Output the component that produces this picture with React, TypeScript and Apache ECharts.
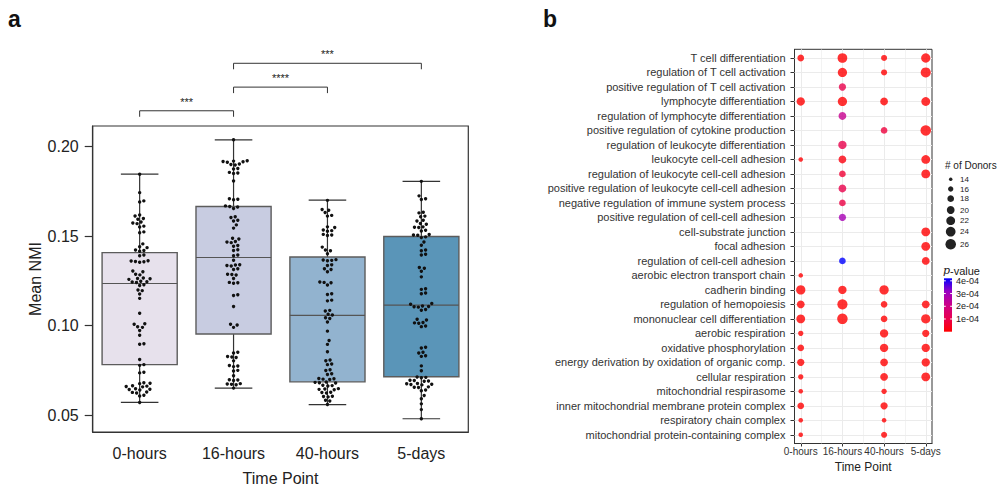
import React, { useEffect, useRef } from 'react';
import * as echarts from 'echarts';

const FONT = 'Liberation Sans';

// ---------- Panel a ----------
const timepoints = ['0-hours', '16-hours', '40-hours', '5-days'];
const boxColors = ['#e7e1ec', '#c8cce1', '#92b3cf', '#5a95b8'];

// box statistics
const boxMin = [0.0571, 0.0651, 0.0559, 0.048];
const boxQ1 = [0.0782, 0.0953, 0.0686, 0.0714];
const boxMedian = [0.1235, 0.138, 0.1057, 0.1114];
const boxQ3 = [0.1407, 0.1665, 0.1383, 0.1497];
const boxMax = [0.1845, 0.2037, 0.17, 0.1805];

const nmi0h = [
  0.1845, 0.1742, 0.1696, 0.169,
  0.1617, 0.1612, 0.1598, 0.1594, 0.1578, 0.1573, 0.1569, 0.1555, 0.155, 0.1523, 0.1518,
  0.1456, 0.144, 0.1435, 0.1422, 0.1419, 0.1415, 0.1394, 0.139, 0.1362, 0.136, 0.1358, 0.1356, 0.1353,
  0.1305, 0.13, 0.1287, 0.1283, 0.1266, 0.1263, 0.1261, 0.1258, 0.1247, 0.1245, 0.1243, 0.124, 0.1228, 0.1224, 0.1199, 0.1195, 0.1176, 0.1152,
  0.1069, 0.101, 0.1007, 0.0993, 0.099, 0.0972, 0.0946, 0.0899, 0.0896,
  0.0811, 0.0782, 0.0778, 0.074, 0.0736,
  0.0681, 0.0678, 0.0676, 0.0664, 0.0662, 0.066, 0.0658, 0.0647, 0.0645, 0.0643, 0.064, 0.0629, 0.0627, 0.0624, 0.0611, 0.0607, 0.0571,
];
const nmi16h = [
  0.2037,
  0.192, 0.1918, 0.1916, 0.1914, 0.1912,
  0.1902, 0.1899, 0.1896,
  0.1877, 0.1874,
  0.1855, 0.1852, 0.1849,
  0.1807,
  0.1708, 0.1705, 0.1702,
  0.1668, 0.1665, 0.1662, 0.1654,
  0.1607, 0.1603, 0.1588, 0.1584, 0.1562, 0.1544,
  0.1487, 0.1483, 0.1469, 0.1466, 0.1463, 0.1447, 0.1443, 0.1423, 0.1419, 0.1394, 0.139, 0.1365,
  0.134, 0.1338, 0.1335, 0.1333, 0.1317, 0.1313, 0.1287, 0.1285, 0.1282, 0.1263, 0.1241, 0.1239, 0.1236,
  0.1172, 0.1168, 0.1106,
  0.1007, 0.1003, 0.099,
  0.0851, 0.0847, 0.0827, 0.0825, 0.0822, 0.0803, 0.0777, 0.0774, 0.0771, 0.075, 0.0746, 0.072, 0.0698, 0.0696, 0.0693, 0.0676, 0.0674, 0.0672, 0.067, 0.0651,
];
const nmi40h = [
  0.1699, 0.1648, 0.1644, 0.1631, 0.1615, 0.1611, 0.1551, 0.1547, 0.1533, 0.153, 0.1527, 0.1509, 0.1506, 0.1503,
  0.1438, 0.1422, 0.1418, 0.1401, 0.1368, 0.1366, 0.1364, 0.1362, 0.1339, 0.1335, 0.1317, 0.1313, 0.13,
  0.1243, 0.1241, 0.1239, 0.1226, 0.1178, 0.1174, 0.1142, 0.1138,
  0.1085, 0.1081, 0.1063, 0.1059, 0.1044, 0.104, 0.102, 0.0969, 0.0917, 0.0895, 0.0854,
  0.0808, 0.0804, 0.0786, 0.0782, 0.0753, 0.0749, 0.0731, 0.0727,
  0.0705, 0.0703, 0.0701, 0.0699, 0.0685, 0.0683, 0.0681, 0.0679, 0.0667, 0.0665, 0.0663, 0.0648, 0.0646, 0.0644, 0.0642, 0.0628, 0.0626, 0.0624, 0.0606, 0.0604, 0.0602, 0.0583, 0.0579, 0.0559,
];
const nmi5d = [
  0.1805, 0.1724, 0.1708, 0.1704, 0.1633, 0.1629, 0.1611, 0.1607, 0.1588, 0.1584, 0.157, 0.1566, 0.1551, 0.1549, 0.1547, 0.1532, 0.1528, 0.1508, 0.1506, 0.1504, 0.1495, 0.1491, 0.1467, 0.1448, 0.1422, 0.1418, 0.1398, 0.1394,
  0.1324, 0.132, 0.1303, 0.1272, 0.1206, 0.1202, 0.1182, 0.1178,
  0.1123, 0.1119, 0.1109, 0.1107, 0.1105, 0.1103, 0.109, 0.1086, 0.1035, 0.1031, 0.1017, 0.1015, 0.1013, 0.0998, 0.0994,
  0.0879, 0.0875, 0.0851, 0.0847, 0.0832, 0.0828, 0.0775, 0.0748,
  0.0713, 0.0711, 0.0709, 0.0695, 0.0693, 0.0691, 0.0689, 0.0677, 0.0675, 0.0673, 0.0671, 0.0669, 0.0658, 0.0656, 0.0654, 0.064, 0.0636, 0.061, 0.0592, 0.0563, 0.0531, 0.048,
];
const nmiGroups = [nmi0h, nmi16h, nmi40h, nmi5d];

// significance brackets
const compFrom = [0, 1, 1];
const compTo = [1, 2, 3];
const compLabel = ['***', '****', '***'];
const compY = [0.2199, 0.2331, 0.2464];

// ---------- Panel b ----------
const terms = [
  'T cell differentiation',
  'regulation of T cell activation',
  'positive regulation of T cell activation',
  'lymphocyte differentiation',
  'regulation of lymphocyte differentiation',
  'positive regulation of cytokine production',
  'regulation of leukocyte differentiation',
  'leukocyte cell-cell adhesion',
  'regulation of leukocyte cell-cell adhesion',
  'positive regulation of leukocyte cell-cell adhesion',
  'negative regulation of immune system process',
  'positive regulation of cell-cell adhesion',
  'cell-substrate junction',
  'focal adhesion',
  'regulation of cell-cell adhesion',
  'aerobic electron transport chain',
  'cadherin binding',
  'regulation of hemopoiesis',
  'mononuclear cell differentiation',
  'aerobic respiration',
  'oxidative phosphorylation',
  'energy derivation by oxidation of organic comp.',
  'cellular respiration',
  'mitochondrial respirasome',
  'inner mitochondrial membrane protein complex',
  'respiratory chain complex',
  'mitochondrial protein-containing complex',
];
const N = null;
const donors0h = [18, N, N, 21, N, N, N, 15, N, N, N, N, N, N, N, 15, 23, 20, 22, 16, 18, 19, 16, 15, 18, 15, 15];
const donors16h = [24, 23, 19, 23, 20, N, 21, 20, 18, 20, 18, 19, N, N, 18, N, 21, 25, 26, N, N, N, N, N, N, N, N];
const donors40h = [17, 17, N, 20, N, 18, N, N, N, N, N, N, N, N, N, N, 23, 18, 18, 21, 21, 20, 20, 16, 19, 15, 17];
const donors5d = [23, 25, N, 22, N, 26, N, 22, 22, N, N, N, 22, 22, 20, N, N, 20, 23, 19, 21, 21, 22, N, N, N, N];
const p0h = [1e-6, N, N, 1e-6, N, N, N, 3e-6, N, N, N, N, N, N, N, 2e-6, 1e-6, 1e-6, 1e-6, 1e-6, 1e-6, 1e-6, 1e-6, 2e-6, 1e-6, 2e-6, 2e-6];
const p16h = [1e-6, 1e-6, 1.0e-4, 1e-6, 2.2e-4, N, 1.0e-4, 2e-5, 7e-5, 1.0e-4, 9e-5, 2.9e-4, N, N, 4.2e-4, N, 1e-6, 1e-6, 1e-6, N, N, N, N, N, N, N, N];
const p40h = [1e-6, 2e-6, N, 1e-6, N, 8e-5, N, N, N, N, N, N, N, N, N, N, 1e-6, 1e-6, 1e-6, 1e-6, 1e-6, 1e-6, 1e-6, 1e-6, 1e-6, 2e-6, 1e-6];
const p5d = [1e-6, 1e-6, N, 1e-6, N, 1e-6, N, 1e-6, 1e-6, N, N, N, 1e-6, 1e-6, 2e-6, N, N, 1e-6, 1e-6, 1e-6, 1e-6, 1e-6, 1e-6, N, N, N, N];
const donorsByTime = [donors0h, donors16h, donors40h, donors5d];
const pByTime = [p0h, p16h, p40h, p5d];

const donorLegend = [14, 16, 18, 20, 22, 24, 26];
const pLegendTicks = [1e-4, 2e-4, 3e-4, 4e-4];
const pLegendLabels = ['1e-04', '2e-04', '3e-04', '4e-04'];

// ---------- helpers ----------
const sizeFor = (n: number) => Math.sqrt(12.25 + 8.17 * (n - 14));
const gradStops = ['#ff0000', '#e8004f', '#cc0088', '#9a00c2', '#0000ff'];
const hex = (c: string) => [1, 3, 5].map((i) => parseInt(c.slice(i, i + 2), 16));
function pColor(p: number, pMax: number) {
  const t = Math.max(0, Math.min(1, p / pMax)) * (gradStops.length - 1);
  const i = Math.min(gradStops.length - 2, Math.floor(t));
  const f = t - i;
  const a = hex(gradStops[i]);
  const b = hex(gradStops[i + 1]);
  const c = a.map((v, k) => Math.round(v + (b[k] - v) * f));
  return `rgb(${c[0]},${c[1]},${c[2]})`;
}

function swarmOffsets(vals: number[], pxPerUnit: number, d: number): number[] {
  const order = vals.map((_, i) => i).sort((a, b) => vals[a] - vals[b]);
  const placed: { x: number; y: number }[] = [];
  const out = new Array(vals.length).fill(0);
  for (const i of order) {
    const y = vals[i] * pxPerUnit;
    const near = placed.filter((p) => Math.abs(p.y - y) < d);
    const cands = [0];
    for (const p of near) {
      const dx = Math.sqrt(d * d - (p.y - y) * (p.y - y));
      cands.push(p.x + dx, p.x - dx);
    }
    cands.sort((a, b) => Math.abs(a) - Math.abs(b));
    let best = 0;
    for (const c of cands) {
      if (near.every((p) => (p.x - c) ** 2 + (p.y - y) ** 2 >= d * d - 1e-6)) {
        best = c;
        break;
      }
    }
    placed.push({ x: best, y });
    out[i] = best;
  }
  return out;
}

// layout
const A = { left: 92.7, top: 126, width: 375.6, height: 309, yMin: 0.0406, yMax: 0.2114 };
const B = { left: 794.5, top: 49.3, width: 137.5, height: 394.2 };

export default function App() {
  const ref = useRef<HTMLDivElement>(null);
  useEffect(() => {
    if (!ref.current) return;
    const chart = echarts.init(ref.current, undefined, { renderer: 'svg' });

    const pxPerUnit = A.height / (A.yMax - A.yMin);
    const band = A.width / timepoints.length;
    const swarmData: number[][] = [];
    nmiGroups.forEach((vals, gi) => {
      const offs = swarmOffsets(vals, pxPerUnit, 4.3);
      vals.forEach((v, k) => swarmData.push([gi + offs[k] / band, v]));
    });

    const boxData = timepoints.map((_, i) => [i, boxMin[i], boxQ1[i], boxMedian[i], boxQ3[i], boxMax[i]]);

    const dots: number[][] = [];
    let pMax = 0;
    donorsByTime.forEach((arr, ti) => {
      arr.forEach((n, ri) => {
        if (n != null) {
          const p = pByTime[ti][ri] as number;
          pMax = Math.max(pMax, p);
          dots.push([ti + 1, ri, n, p]);
        }
      });
    });

    const gridLineData: any[] = [];
    [1, 1.5, 2, 2.5, 3, 3.5, 4].forEach((v) =>
      gridLineData.push({ xAxis: v, lineStyle: { color: '#ebebeb', width: Number.isInteger(v) ? 1 : 0.6, type: 'solid' } })
    );
    terms.forEach((_, i) => gridLineData.push({ yAxis: i, lineStyle: { color: '#ebebeb', width: 1, type: 'solid' } }));

    const option: any = {
      animation: false,
      backgroundColor: '#ffffff',
      textStyle: { fontFamily: FONT },
      grid: [
        { left: A.left, top: A.top, width: A.width, height: A.height, show: true, borderColor: '#333', borderWidth: 1.2, backgroundColor: 'transparent' },
        { left: B.left, top: B.top, width: B.width, height: B.height, show: true, borderColor: '#333', borderWidth: 1, backgroundColor: 'transparent' },
      ],
      xAxis: [
        {
          type: 'category', gridIndex: 0, data: timepoints, boundaryGap: true,
          axisLine: { show: true, onZero: false, lineStyle: { color: '#333', width: 1.2 } },
          axisTick: { alignWithLabel: true, length: 8, lineStyle: { color: '#333', width: 1.2 } },
          axisLabel: { fontSize: 16, color: '#222', margin: 13, fontFamily: FONT },
          name: 'Time Point', nameLocation: 'middle', nameGap: 38,
          nameTextStyle: { fontSize: 16, color: '#222', fontFamily: FONT },
          splitLine: { show: false },
        },
        { type: 'value', gridIndex: 0, min: -0.5, max: 3.5, show: false, axisLine: { onZero: false } },
        {
          type: 'value', gridIndex: 1, min: 0.85, max: 4.15,
          axisLine: { show: true, onZero: false, lineStyle: { color: '#333', width: 1 } },
          axisTick: { show: true, length: 3, customValues: [1, 2, 3, 4], lineStyle: { color: '#333' } },
          axisLabel: { customValues: [1, 2, 3, 4], formatter: (v: number) => timepoints[Math.round(v) - 1], fontSize: 10, color: '#333', margin: 3, fontFamily: FONT },
          splitLine: { show: false },
          name: 'Time Point', nameLocation: 'middle', nameGap: 12,
          nameTextStyle: { fontSize: 12, color: '#222', fontFamily: FONT },
        },
      ],
      yAxis: [
        {
          type: 'value', gridIndex: 0, min: A.yMin, max: A.yMax,
          axisLine: { show: true, onZero: false, lineStyle: { color: '#333', width: 1.2 } },
          axisTick: { show: true, length: 8, customValues: [0.05, 0.1, 0.15, 0.2], lineStyle: { color: '#333', width: 1.2 } },
          axisLabel: { customValues: [0.05, 0.1, 0.15, 0.2], formatter: (v: number) => v.toFixed(2), fontSize: 16, color: '#222', margin: 14, fontFamily: FONT },
          splitLine: { show: false },
          name: 'Mean NMI', nameLocation: 'middle', nameGap: 46,
          nameTextStyle: { fontSize: 16, color: '#222', fontFamily: FONT },
        },
        {
          type: 'value', gridIndex: 1, min: -0.6, max: 26.6, inverse: true,
          axisLine: { show: true, onZero: false, lineStyle: { color: '#333', width: 1 } },
          axisTick: { show: true, length: 4, customValues: terms.map((_, i) => i), lineStyle: { color: '#333' } },
          axisLabel: { customValues: terms.map((_, i) => i), formatter: (v: number) => terms[Math.round(v)], fontSize: 11, color: '#333', margin: 9, fontFamily: FONT },
          splitLine: { show: false },
        },
      ],
      series: [
        {
          type: 'custom', xAxisIndex: 0, yAxisIndex: 0, data: boxData, z: 2,
          encode: { x: 0, y: [1, 2, 3, 4, 5] },
          renderItem: (params: any, api: any) => {
            const idx = api.value(0);
            const cx = api.coord([idx, api.value(3)])[0];
            const yMin = api.coord([idx, api.value(1)])[1];
            const yQ1 = api.coord([idx, api.value(2)])[1];
            const yMed = api.coord([idx, api.value(3)])[1];
            const yQ3 = api.coord([idx, api.value(4)])[1];
            const yMax = api.coord([idx, api.value(5)])[1];
            const bw = api.size([1, 0])[0];
            const boxW = bw * 0.8;
            const capW = bw * 0.4;
            const ws = { stroke: '#333', lineWidth: 1.2 };
            return {
              type: 'group',
              children: [
                { type: 'line', shape: { x1: cx, y1: yMax, x2: cx, y2: yQ3 }, style: ws },
                { type: 'line', shape: { x1: cx, y1: yQ1, x2: cx, y2: yMin }, style: ws },
                { type: 'line', shape: { x1: cx - capW / 2, y1: yMax, x2: cx + capW / 2, y2: yMax }, style: ws },
                { type: 'line', shape: { x1: cx - capW / 2, y1: yMin, x2: cx + capW / 2, y2: yMin }, style: ws },
                { type: 'rect', shape: { x: cx - boxW / 2, y: yQ3, width: boxW, height: yQ1 - yQ3 }, style: { fill: boxColors[idx], stroke: '#5c5c5c', lineWidth: 1.4 } },
                { type: 'line', shape: { x1: cx - boxW / 2, y1: yMed, x2: cx + boxW / 2, y2: yMed }, style: { stroke: '#555', lineWidth: 1.2 } },
              ],
            };
          },
        },
        {
          type: 'scatter', xAxisIndex: 1, yAxisIndex: 0, data: swarmData, z: 3,
          symbolSize: 3.4, itemStyle: { color: '#111', opacity: 1 }, silent: true,
        },
        {
          type: 'scatter', xAxisIndex: 2, yAxisIndex: 1, data: [[1, 0]], symbolSize: 0, z: 1, silent: true,
          markLine: { silent: true, symbol: ['none', 'none'], label: { show: false }, data: gridLineData, z: 1 },
        },
        {
          type: 'scatter', xAxisIndex: 2, yAxisIndex: 1, data: dots, z: 3,
          symbolSize: (v: number[]) => sizeFor(v[2]),
          itemStyle: { color: (p: any) => pColor(p.value[3], pMax), opacity: 0.8 },
        },
      ],
    };
    chart.setOption(option);

    // graphic annotations
    const g: any[] = [];
    g.push({ type: 'text', x: 8, y: 19, style: { text: 'a', fontSize: 23, fontWeight: 'bold', fontFamily: FONT, fill: '#111', textVerticalAlign: 'middle' } });
    g.push({ type: 'text', x: 543, y: 19, style: { text: 'b', fontSize: 23, fontWeight: 'bold', fontFamily: FONT, fill: '#111', textVerticalAlign: 'middle' } });

    compFrom.forEach((f, k) => {
      const x1 = chart.convertToPixel({ xAxisIndex: 0 }, timepoints[f]) as number;
      const x2 = chart.convertToPixel({ xAxisIndex: 0 }, timepoints[compTo[k]]) as number;
      const y = chart.convertToPixel({ yAxisIndex: 0 }, compY[k]) as number;
      g.push({ type: 'polyline', shape: { points: [[x1, y + 6], [x1, y], [x2, y], [x2, y + 6]] }, style: { stroke: '#333', lineWidth: 1, fill: null } });
      g.push({ type: 'text', x: (x1 + x2) / 2, y: y - 9, style: { text: compLabel[k], fontSize: 11, fontFamily: FONT, fill: '#222', textAlign: 'center', textVerticalAlign: 'middle' } });
    });

    // size legend
    const legY = [179.3, 189, 198.7, 210, 220.7, 231.7, 244.3];
    g.push({ type: 'text', x: 945, y: 165, style: { text: '# of Donors', fontSize: 10, fontFamily: FONT, fill: '#222', textVerticalAlign: 'middle' } });
    donorLegend.forEach((n, i) => {
      g.push({ type: 'circle', shape: { cx: 950.7, cy: legY[i], r: sizeFor(n) / 2 }, style: { fill: '#222' } });
      g.push({ type: 'text', x: 960, y: legY[i], style: { text: String(n), fontSize: 8, fontFamily: FONT, fill: '#222', textVerticalAlign: 'middle' } });
    });

    // colour bar
    const cb = { x: 944, y: 278.3, w: 8, h: 53.4 };
    g.push({
      type: 'text', x: 943, y: 270.5,
      style: {
        text: '{i|p}{n|-value}', textVerticalAlign: 'middle',
        rich: {
          i: { fontFamily: 'DejaVu Serif', fontStyle: 'italic', fontSize: 11, fill: '#222' },
          n: { fontFamily: FONT, fontSize: 11, fill: '#222' },
        },
      },
    });
    g.push({
      type: 'rect', shape: { x: cb.x, y: cb.y, width: cb.w, height: cb.h },
      style: {
        fill: new echarts.graphic.LinearGradient(0, 0, 0, 1, gradStops.slice().reverse().map((c, i) => ({ offset: i / (gradStops.length - 1), color: c }))),
      },
    });
    pLegendTicks.forEach((v, i) => {
      const y = cb.y + cb.h - (v / pMax) * cb.h;
      g.push({ type: 'line', shape: { x1: cb.x, y1: y, x2: cb.x + 1.8, y2: y }, style: { stroke: '#fff', lineWidth: 1 } });
      g.push({ type: 'line', shape: { x1: cb.x + cb.w - 1.8, y1: y, x2: cb.x + cb.w, y2: y }, style: { stroke: '#fff', lineWidth: 1 } });
      g.push({ type: 'text', x: 956, y, style: { text: pLegendLabels[i], fontSize: 9, fontFamily: FONT, fill: '#222', textVerticalAlign: 'middle' } });
    });

    chart.setOption({ graphic: g });

    return () => chart.dispose();
  }, []);

  return <div ref={ref} style={{ position: 'absolute', left: 0, top: 0, width: 1000, height: 491, background: '#fff' }} />;
}
